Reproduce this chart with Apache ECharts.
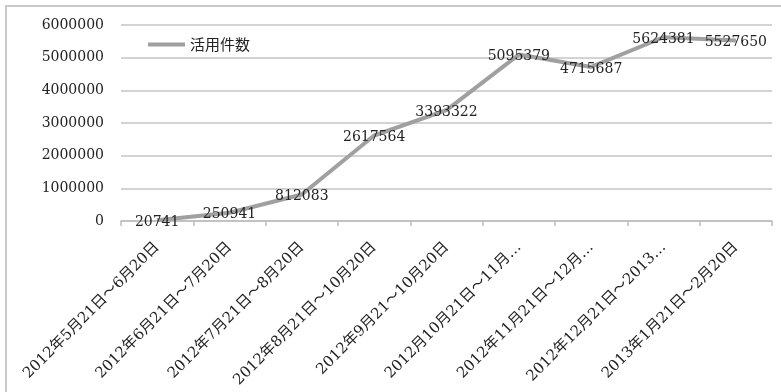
<!DOCTYPE html>
<html>
<head>
<meta charset="utf-8">
<script src="https://cdn.jsdelivr.net/npm/echarts@6/dist/echarts.min.js"></script>
<style>
  html, body { margin: 0; padding: 0; background: #fff; }
  #chart { width: 781px; height: 392px; }
</style>
</head>
<body>
<div id="chart"></div>
<script>
var categories = ['2012年5月21日～6月20日', '2012年6月21日～7月20日', '2012年7月21日～8月20日',
    '2012年8月21日～10月20日', '2012年9月21～10月20日', '2012月10月21日～11月…',
    '2012年11月21日～12月…', '2012年12月21日～2013…', '2013年1月21日～2月20日'];
var seriesName = '活用件数';
var counts = [20741, 250941, 812083, 2617564, 3393322, 5095379, 4715687, 5624381, 5527650];
var yTicks = [0, 1000000, 2000000, 3000000, 4000000, 5000000, 6000000];

var chart = echarts.init(document.getElementById('chart'));

var numFont = "'DejaVu Serif', 'Noto Sans CJK JP'";

chart.setOption({
    animation: false,
    graphic: [{
        type: 'rect',
        shape: { x: 6, y: 6, width: 820, height: 420 },
        style: { fill: 'none', stroke: '#c8c8c8', lineWidth: 2 },
        silent: true
    }],
    grid: {
        left: 121,
        right: 9,
        top: 25,
        bottom: 171,
        outerBoundsMode: 'none'
    },
    legend: {
        left: 143,
        top: 32,
        icon: 'rect',
        itemWidth: 37,
        itemHeight: 4,
        itemGap: 4,
        textStyle: { fontSize: 15, color: '#222', fontFamily: "'Noto Sans CJK JP'" },
        data: [seriesName]
    },
    xAxis: {
        type: 'category',
        data: categories,
        boundaryGap: true,
        axisLine: { lineStyle: { color: '#bdbdbd', width: 1.5 } },
        axisTick: { show: true, length: 5, lineStyle: { color: '#bdbdbd', width: 1.5 } },
        axisLabel: {
            interval: 0,
            rotate: 45,
            margin: 24,
            fontSize: 15,
            color: '#222',
            fontFamily: numFont
        }
    },
    yAxis: {
        type: 'value',
        min: yTicks[0],
        max: yTicks[yTicks.length - 1],
        interval: yTicks[1] - yTicks[0],
        axisLine: { show: false },
        axisTick: { show: false },
        axisLabel: {
            margin: 17,
            fontSize: 14,
            color: '#222',
            fontFamily: numFont,
            formatter: function (v) { return String(v); }
        },
        splitLine: { lineStyle: { color: '#c4c4c4', width: 1.5 } }
    },
    series: [{
        name: seriesName,
        type: 'line',
        data: counts,
        symbol: 'circle',
        symbolSize: 1,
        showSymbol: true,
        itemStyle: { color: '#a0a0a0' },
        lineStyle: { color: '#a0a0a0', width: 4 },
        label: {
            show: true,
            position: 'inside',
            offset: [0, 2],
            fontSize: 14,
            color: '#222',
            fontFamily: numFont
        }
    }]
});
</script>
</body>
</html>
